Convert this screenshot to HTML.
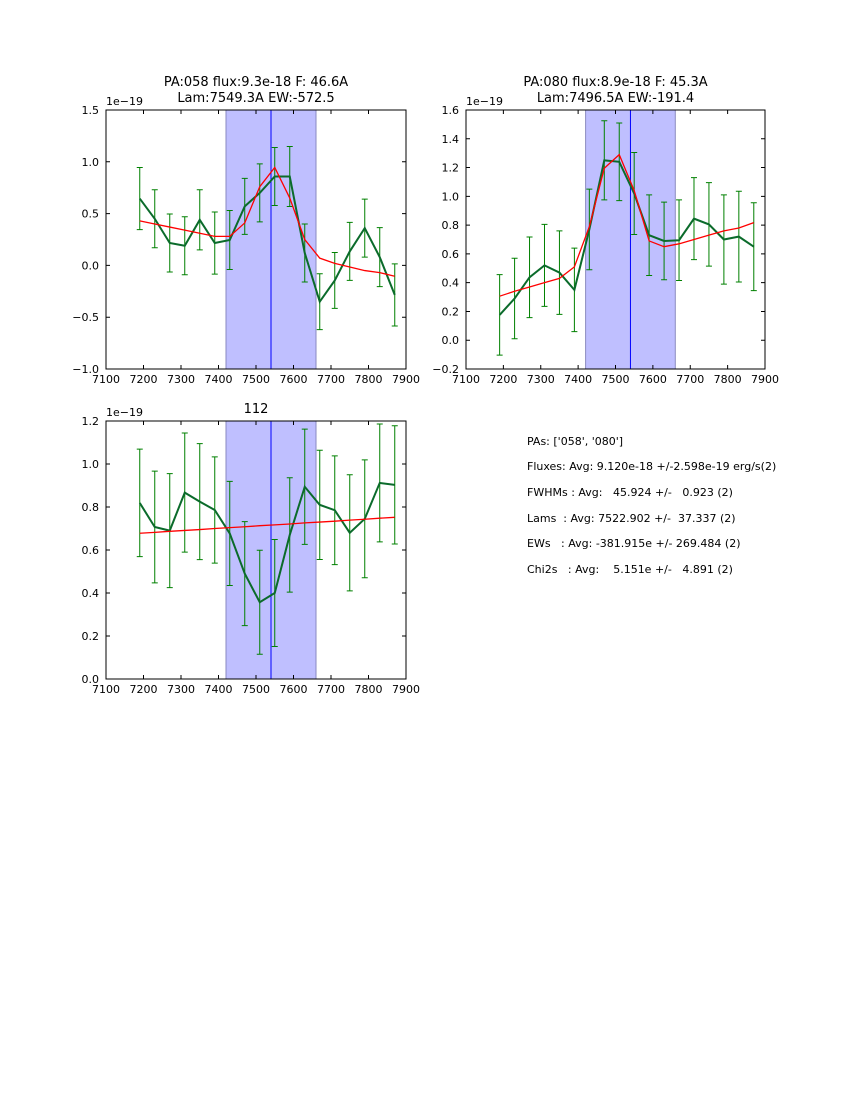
<!DOCTYPE html>
<html><head><meta charset="utf-8"><style>
body{margin:0;background:#fff;}
svg{display:block;font-family:"DejaVu Sans","Liberation Sans",sans-serif;}
</style></head><body>
<svg id="fig" width="850" height="1100" viewBox="0 0 850 1100">
<g font-size="11" fill="#000">
<text x="527" y="445">PAs: ['058', '080']</text>
<text x="527" y="470">Fluxes: Avg: 9.120e-18 +/-2.598e-19 erg/s(2)</text>
<text x="527" y="496" xml:space="preserve">FWHMs : Avg:   45.924 +/-   0.923 (2)</text>
<text x="527" y="522" xml:space="preserve">Lams  : Avg: 7522.902 +/-  37.337 (2)</text>
<text x="527" y="547" xml:space="preserve">EWs   : Avg: -381.915e +/- 269.484 (2)</text>
<text x="527" y="573" xml:space="preserve">Chi2s   : Avg:    5.151e +/-   4.891 (2)</text>
</g>
</svg>
<script>
const waves=[7190,7230,7270,7310,7350,7390,7430,7470,7510,7550,7590,7630,7670,7710,7750,7790,7830,7870];
const flux058=[0.645,0.45,0.216,0.19,0.44,0.216,0.245,0.57,0.70,0.858,0.858,0.12,-0.35,-0.145,0.135,0.36,0.08,-0.285];
const err058=[0.30,0.28,0.28,0.28,0.29,0.30,0.285,0.27,0.28,0.28,0.29,0.28,0.27,0.27,0.28,0.28,0.285,0.30];
const fit058=[0.43,0.40,0.37,0.34,0.31,0.28,0.28,0.41,0.76,0.945,0.65,0.25,0.07,0.02,-0.015,-0.05,-0.07,-0.105];
const flux080=[0.176,0.29,0.437,0.52,0.47,0.35,0.77,1.25,1.24,1.02,0.73,0.69,0.695,0.845,0.805,0.70,0.72,0.65];
const err080=[0.28,0.28,0.28,0.285,0.29,0.29,0.28,0.275,0.27,0.285,0.28,0.27,0.28,0.285,0.29,0.31,0.315,0.305];
const fit080=[0.306,0.34,0.37,0.40,0.43,0.51,0.79,1.195,1.29,1.04,0.69,0.65,0.67,0.70,0.73,0.76,0.78,0.817];
const flux112=[0.819,0.707,0.69,0.867,0.825,0.786,0.677,0.49,0.357,0.40,0.67,0.894,0.81,0.785,0.68,0.745,0.912,0.903];
const err112=[0.25,0.26,0.265,0.277,0.27,0.247,0.242,0.242,0.242,0.249,0.266,0.268,0.254,0.253,0.27,0.274,0.274,0.275];
const fit112=[0.678,0.682,0.687,0.691,0.695,0.700,0.704,0.708,0.713,0.717,0.721,0.726,0.730,0.734,0.739,0.743,0.748,0.752];
const xTicks=[7100,7200,7300,7400,7500,7600,7700,7800,7900];
const yTicks058=[-1.0,-0.5,0.0,0.5,1.0,1.5];
const yTicks080=[-0.2,0.0,0.2,0.4,0.6,0.8,1.0,1.2,1.4,1.6];
const yTicks112=[0.0,0.2,0.4,0.6,0.8,1.0,1.2];
const band=[7420,7660];
const centerLine=7540;

const NS="http://www.w3.org/2000/svg";
const svg=document.getElementById('fig');
function mk(tag,attrs,parent){const e=document.createElementNS(NS,tag);for(const k in attrs)e.setAttribute(k,attrs[k]);(parent||svg).appendChild(e);return e;}
function fmt(v){return (v<0?'\u2212':'')+Math.abs(v).toFixed(1);}

function panel(name,box,ylim,yt,flux,err,fit,titles){
  const g=mk('g',{});
  
  
  const [L,T,R,B]=box;
  const sx=v=>L+(v-7100)/(800)*(R-L);
  const sy=v=>B-(v-ylim[0])/(ylim[1]-ylim[0])*(B-T);
  const sh=mk('rect',{x:sx(band[0]),y:T,width:sx(band[1])-sx(band[0]),height:B-T,fill:'#bfbfff',stroke:'#8a8ac0','stroke-width':1},g);
  
  
  const cl=mk('line',{x1:sx(centerLine),x2:sx(centerLine),y1:T,y2:B,stroke:'#0000ff','stroke-width':1},g);
  
  
  waves.forEach((w,i)=>{
    const x=sx(w),y1=sy(flux[i]+err[i]),y2=sy(flux[i]-err[i]);
    const eb=mk('path',{d:`M${x},${y1}V${y2}M${x-3},${y1}H${x+3}M${x-3},${y2}H${x+3}`,stroke:'#008000','stroke-width':1,fill:'none'},g);
    
    
  });
  const dl=mk('polyline',{points:waves.map((w,i)=>sx(w)+','+sy(flux[i])).join(' '),stroke:'#0b6b2b','stroke-width':2,fill:'none'},g);
  
  
  const fl=mk('polyline',{points:waves.map((w,i)=>sx(w)+','+sy(fit[i])).join(' '),stroke:'#ff0000','stroke-width':1.3,fill:'none'},g);
  
  
  const fr=mk('rect',{x:L,y:T,width:R-L,height:B-T,fill:'none',stroke:'#000','stroke-width':1},g);
  
  
  xTicks.forEach(t=>{
    const x=sx(t);
    mk('path',{d:`M${x},${B}V${B-4}M${x},${T}V${T+4}`,stroke:'#000'},g);
    const tx=mk('text',{x:x,y:B+14,'text-anchor':'middle','font-size':11},g);
    tx.textContent=t;
    
    
  });
  yt.forEach(t=>{
    const y=sy(t);
    mk('path',{d:`M${L},${y}H${L+4}M${R},${y}H${R-4}`,stroke:'#000'},g);
    const ty=mk('text',{x:L-7,y:y+4,'text-anchor':'end','font-size':11},g);
    ty.textContent=fmt(t);
    
    
  });
  const off=mk('text',{x:L,y:T-5,'font-size':11},g);
  off.textContent='1e\u221219';
  
  
  titles.forEach((s,k)=>{
    const tt=mk('text',{x:(L+R)/2,y:T-(titles.length-k-1)*16-8,'text-anchor':'middle','font-size':13},g);
    tt.textContent=s;
    
    
  });
}
panel('panel-pa058',[106,110,406,369],[-1.0,1.5],yTicks058,flux058,err058,fit058,['PA:058 flux:9.3e-18 F: 46.6A','Lam:7549.3A EW:-572.5']);
panel('panel-pa080',[466,110,765,369],[-0.2,1.6],yTicks080,flux080,err080,fit080,['PA:080 flux:8.9e-18 F: 45.3A','Lam:7496.5A EW:-191.4']);
panel('panel-pa112',[106,421,406,679],[0.0,1.2],yTicks112,flux112,err112,fit112,['112']);
</script>
</body></html>
